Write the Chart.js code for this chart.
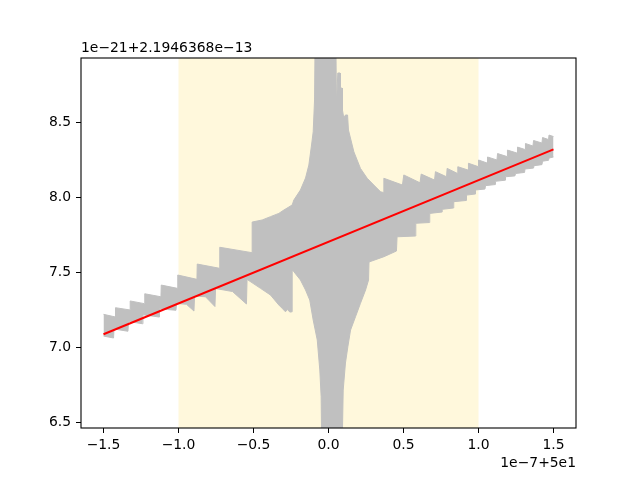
<!DOCTYPE html>
<html>
<head>
<meta charset="utf-8">
<script src="https://cdn.jsdelivr.net/npm/chart.js@4/dist/chart.umd.min.js"></script>
<style>
html,body{margin:0;padding:0;background:#fff;}
#wrap{width:640px;height:480px;}
</style>
</head>
<body>
<div id="wrap"><canvas id="c" width="640" height="480"></canvas></div>
<script>
// ---- data (axis units: x in 1e-7 offset 50, y in 1e-21 offset 2.1946368e-13) ----
const xTicks = [-1.5, -1.0, -0.5, 0.0, 0.5, 1.0, 1.5];
const yTicks = [6.5, 7.0, 7.5, 8.0, 8.5];
const xOffsetLabel = "1e\u22127+5e1";
const yOffsetLabel = "1e\u221221+2.1946368e\u221213";
const spanRange = [-1.0, 1.0];

const fitX = [-1.5, 1.5];
const fitY = [7.085, 8.318];

const upperX = [-1.5,-1.42,-1.42,-1.323,-1.322,-1.227,-1.225,-1.117,-1.115,-1.007,-1.005,-0.877,-0.875,-0.727,-0.725,-0.51,
  -0.509,-0.442,-0.387,-0.331,-0.298,-0.242,-0.231,-0.187,-0.153,-0.131,-0.113,-0.102,-0.093,-0.087,
  0.047,0.053,0.062,0.077,0.08,0.085,0.09,0.093,0.102,0.113,0.127,0.133,0.169,0.213,0.258,0.302,0.347,0.367,
  0.369,0.493,0.502,0.61,0.618,0.707,0.713,0.787,0.791,0.858,0.862,0.93,0.933,0.997,1.0,1.057,1.06,1.123,
  1.127,1.19,1.193,1.257,1.26,1.31,1.313,1.363,1.367,1.423,1.427,1.467,1.47,1.5];
const upperY = [7.218,7.200,7.262,7.247,7.307,7.289,7.355,7.335,7.413,7.391,7.480,7.451,7.553,7.525,7.665,7.629,
  7.833,7.847,7.869,7.891,7.913,7.947,7.980,8.047,8.127,8.213,8.347,8.435,8.647,9.3,
  9.3,8.613,8.827,8.827,8.647,8.727,8.727,8.58,8.527,8.547,8.547,8.447,8.302,8.191,8.125,8.08,8.035,8.03,
  8.125,8.08,8.147,8.095,8.153,8.113,8.169,8.135,8.191,8.158,8.202,8.18,8.225,8.203,8.247,8.227,8.267,8.247,
  8.29,8.27,8.313,8.293,8.333,8.317,8.357,8.34,8.377,8.36,8.397,8.383,8.413,8.403];

const lowerX = [-1.5,-1.433,-1.43,-1.337,-1.333,-1.24,-1.237,-1.13,-1.127,-1.073,-1.017,-1.013,-0.947,-0.897,
  -0.893,-0.82,-0.757,-0.753,-0.64,-0.547,-0.543,-0.453,-0.387,-0.331,-0.309,-0.287,-0.273,-0.258,-0.243,
  -0.242,-0.231,-0.187,-0.153,-0.125,-0.102,-0.075,-0.058,-0.049,-0.042,
  0.085,0.098,0.113,0.129,0.147,0.18,0.213,0.247,0.267,0.27,0.369,0.453,0.457,0.58,0.582,0.673,0.675,0.757,
  0.758,0.833,0.835,0.917,0.92,0.977,0.98,1.043,1.047,1.11,1.113,1.177,1.18,1.243,1.247,1.307,1.31,1.367,
  1.37,1.423,1.427,1.467,1.47,1.5];
const lowerY = [7.073,7.06,7.12,7.105,7.17,7.155,7.215,7.2,7.255,7.25,7.245,7.29,7.285,7.24,
  7.34,7.335,7.27,7.39,7.37,7.287,7.451,7.391,7.347,7.28,7.258,7.235,7.25,7.233,7.235,
  7.513,7.502,7.447,7.38,7.313,7.18,7.047,6.847,6.669,6.0,
  6.0,6.713,6.893,7.002,7.113,7.202,7.291,7.38,7.447,7.567,7.602,7.64,7.735,7.74,7.825,7.83,7.891,7.9,
  7.918,7.927,7.969,7.977,8.013,8.02,8.047,8.053,8.076,8.083,8.105,8.112,8.135,8.141,8.157,8.164,8.187,8.193,
  8.209,8.216,8.239,8.245,8.26,8.267];

// ---- styling ----
const FONT = 'DejaVu Sans';
const FSIZE = 13.9;
const toPts = (xs, ys) => xs.map((v, i) => ({x: v, y: ys[i]}));
const fmt = v => (v < 0 ? '\u2212' : '') + Math.abs(v).toFixed(1);

const decor = {
  id: 'decor',
  beforeDatasetsDraw(chart) {
    const {ctx, chartArea: a, scales: {x}} = chart;
    const x0 = x.getPixelForValue(spanRange[0]);
    const x1 = x.getPixelForValue(spanRange[1]);
    ctx.save();
    ctx.fillStyle = '#FFF8DC';
    ctx.fillRect(x0, a.top, x1 - x0, a.bottom - a.top);
    ctx.restore();
  },
  afterDatasetsDraw(chart) {
    const {ctx, chartArea: a} = chart;
    ctx.save();
    ctx.strokeStyle = '#000';
    ctx.lineWidth = 1.1;
    ctx.strokeRect(a.left, a.top, a.right - a.left, a.bottom - a.top);
    ctx.restore();
  },
  afterDraw(chart) {
    const {ctx, chartArea: a} = chart;
    ctx.save();
    ctx.fillStyle = '#000';
    ctx.font = FSIZE + 'px "' + FONT + '"';
    ctx.textBaseline = 'alphabetic';
    ctx.textAlign = 'left';
    ctx.fillText(yOffsetLabel, a.left, a.top - 6);
    ctx.textAlign = 'right';
    ctx.fillText(xOffsetLabel, a.right, 467);
    ctx.restore();
  }
};

new Chart(document.getElementById('c'), {
  type: 'line',
  data: {
    datasets: [
      {data: toPts(fitX, fitY), borderColor: '#FF0000', borderWidth: 2, pointRadius: 0, fill: false, tension: 0},
      {data: toPts(lowerX, lowerY), borderColor: '#C0C0C0', borderWidth: 1, pointRadius: 0, fill: false, tension: 0},
      {data: toPts(upperX, upperY), borderColor: '#C0C0C0', backgroundColor: '#C0C0C0', borderWidth: 1, pointRadius: 0, fill: 1, tension: 0}
    ]
  },
  options: {
    responsive: false,
    animation: false,
    devicePixelRatio: 1,
    layout: {padding: {left: 0, top: 58, right: 64, bottom: 0}},
    plugins: {legend: {display: false}, tooltip: {enabled: false}, title: {display: false}},
    scales: {
      x: {
        type: 'linear', min: -1.65, max: 1.65,
        afterBuildTicks: s => { s.ticks = xTicks.map(v => ({value: v})); },
        afterFit: s => { s.height = 52; },
        ticks: {callback: v => fmt(v), color: '#000', font: {family: FONT, size: FSIZE}, padding: 4, maxRotation: 0, autoSkip: false},
        grid: {display: true, drawOnChartArea: false, drawTicks: true, tickLength: 5, color: '#000', lineWidth: 1},
        border: {display: false}
      },
      y: {
        type: 'linear', min: 6.46, max: 8.927,
        afterBuildTicks: s => { s.ticks = yTicks.map(v => ({value: v})); },
        afterFit: s => { s.width = 81; },
        ticks: {callback: v => v.toFixed(1), color: '#000', font: {family: FONT, size: FSIZE}, padding: 5, autoSkip: false},
        grid: {display: true, drawOnChartArea: false, drawTicks: true, tickLength: 5, color: '#000', lineWidth: 1},
        border: {display: false}
      }
    }
  },
  plugins: [decor]
});
</script>
</body>
</html>
